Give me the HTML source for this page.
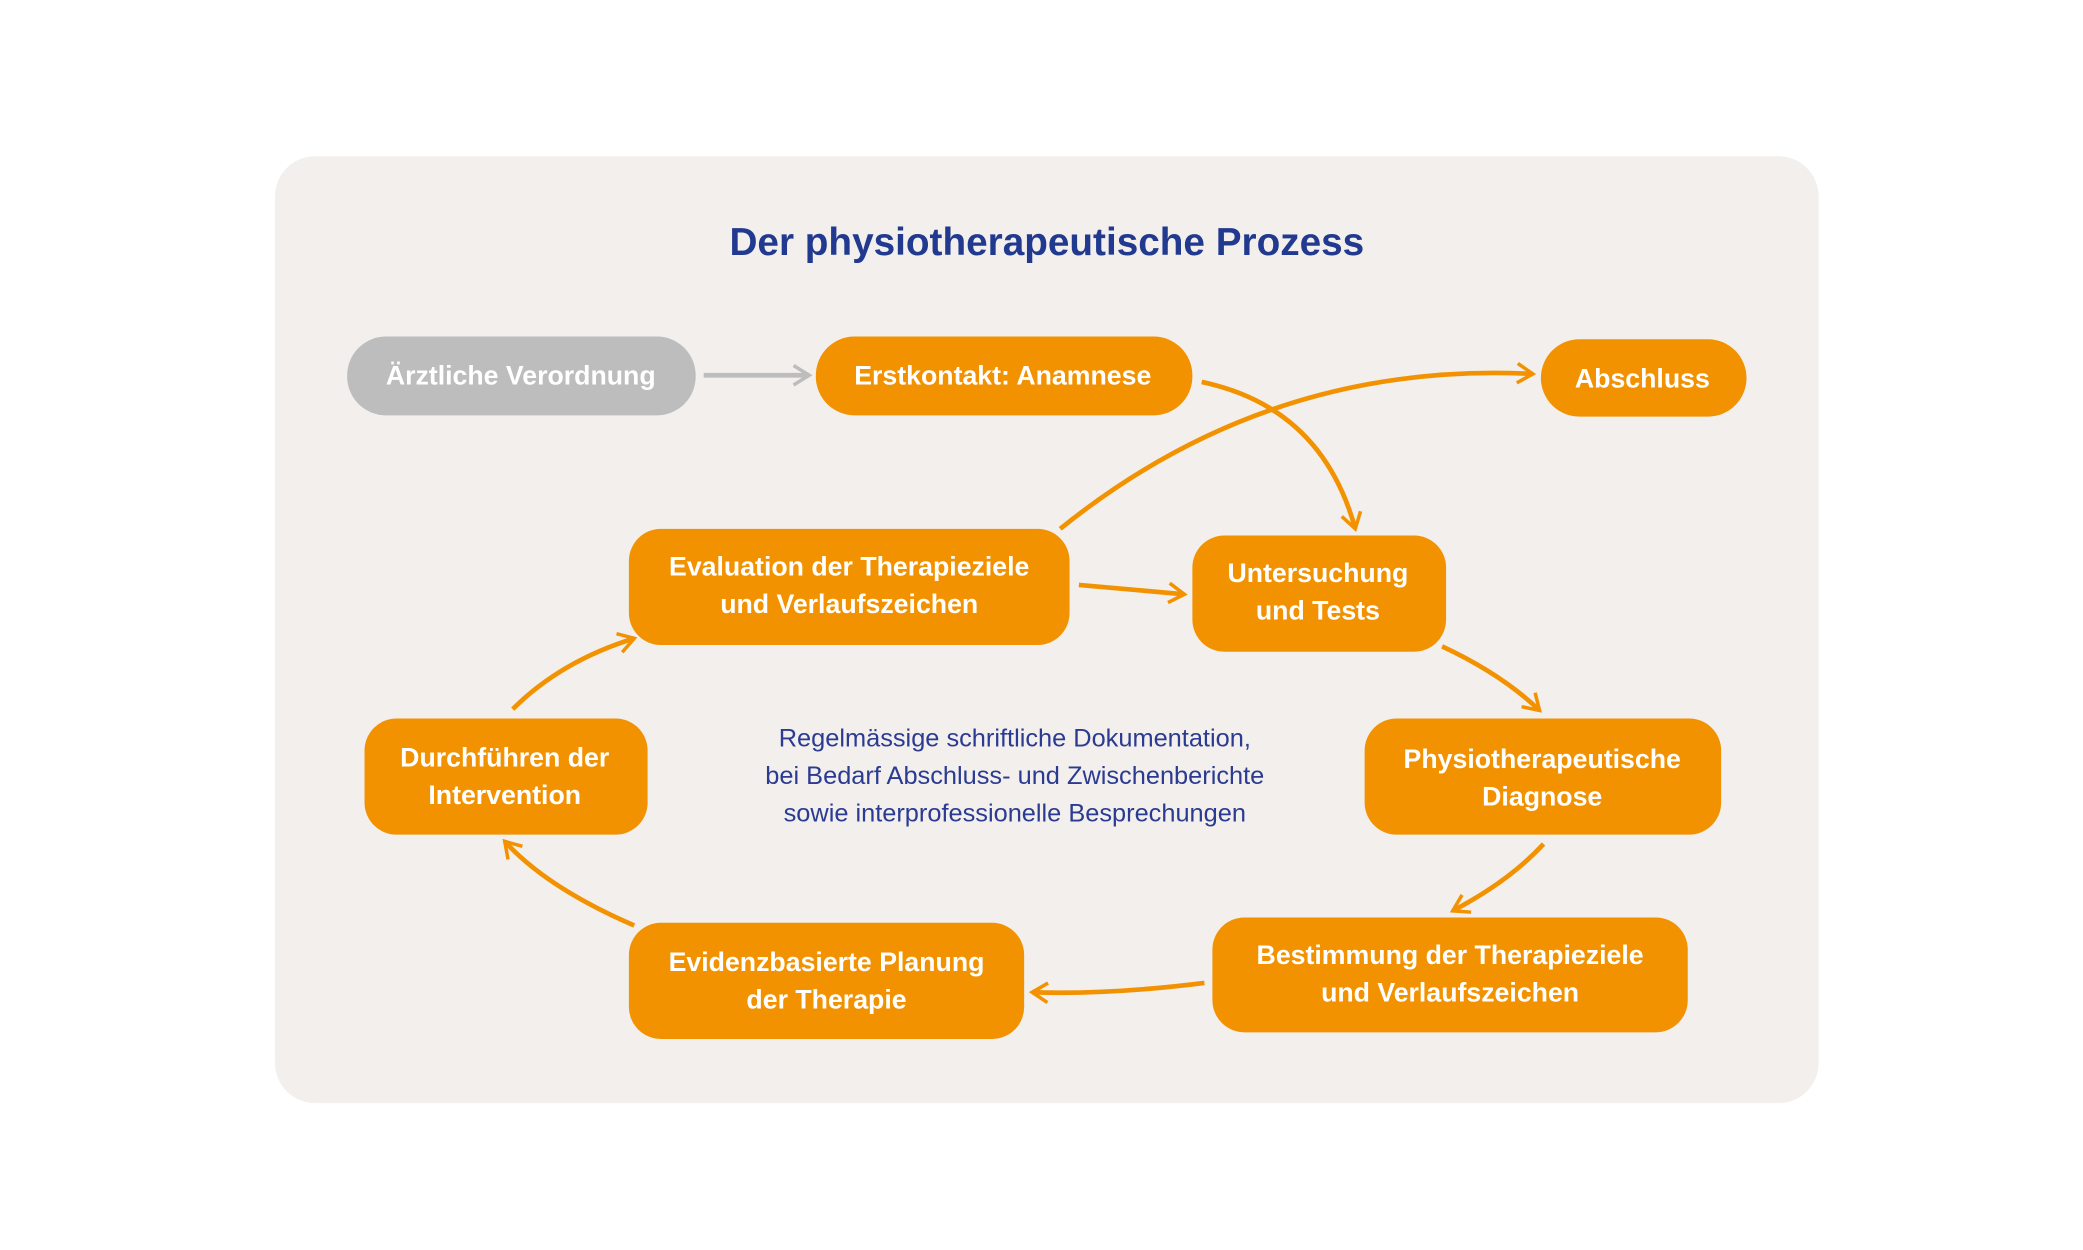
<!DOCTYPE html>
<html><head><meta charset="utf-8"><style>
html,body{margin:0;padding:0;background:#fff;}
svg{display:block;}
.b{font-family:"Liberation Sans",sans-serif;font-weight:bold;font-size:20px;fill:#fff;text-anchor:middle;}
.c{font-family:"Liberation Sans",sans-serif;font-size:19px;fill:#2b3b92;text-anchor:middle;}
</style></head><body>
<svg width="2083" height="1250" viewBox="0 0 1560 936" preserveAspectRatio="none" xmlns="http://www.w3.org/2000/svg">
<defs>
<marker id="m" viewBox="0 0 12 12" refX="10" refY="6" markerWidth="5" markerHeight="5" orient="auto" markerUnits="strokeWidth">
<path d="M2,1 L10,6 L2,11" fill="none" stroke="#f39200" stroke-width="1.8"/></marker>
<marker id="g" viewBox="0 0 12 12" refX="10" refY="6" markerWidth="5" markerHeight="5" orient="auto" markerUnits="strokeWidth">
<path d="M2,1 L10,6 L2,11" fill="none" stroke="#bdbdbd" stroke-width="1.8"/></marker>
</defs>
<rect x="206" y="117" width="1156" height="709" rx="30" fill="#f2efec"/>
<text x="784" y="191" font-family="Liberation Sans,sans-serif" font-weight="bold" font-size="29" fill="#213a8f" text-anchor="middle">Der physiotherapeutische Prozess</text>

<g fill="none" stroke="#f39200" stroke-width="3.5" marker-end="url(#m)">
<path d="M900,286 Q990,305 1015,396"/>
<path d="M794,396 Q950,270 1148,280"/>
<path d="M808,438 L887,445"/>
<path d="M1080,484 Q1125,505 1153,532"/>
<path d="M1156,632 Q1130,660 1088,682"/>
<path d="M902,736 Q830,745 773,743"/>
<path d="M475,693 Q410,665 378,630"/>
<path d="M384,531 Q420,495 475,478"/>
</g>
<path d="M527,281 L606,281" fill="none" stroke="#bdbdbd" stroke-width="3.5" marker-end="url(#g)"/>

<rect x="260" y="252" width="261" height="59" rx="29" fill="#bdbdbd"/>
<text class="b" x="390" y="288">Ärztliche Verordnung</text>
<rect x="611" y="252" width="282" height="59" rx="29" fill="#f39200"/>
<text class="b" x="751" y="288">Erstkontakt: Anamnese</text>
<rect x="1154" y="254" width="154" height="58" rx="29" fill="#f39200"/>
<text class="b" x="1230" y="290">Abschluss</text>

<rect x="471" y="396" width="330" height="87" rx="24" fill="#f39200"/>
<text class="b" x="636" y="431">Evaluation der Therapieziele</text>
<text class="b" x="636" y="459">und Verlaufszeichen</text>
<rect x="893" y="401" width="190" height="87" rx="24" fill="#f39200"/>
<text class="b" x="987" y="436">Untersuchung</text>
<text class="b" x="987" y="464">und Tests</text>
<rect x="273" y="538" width="212" height="87" rx="24" fill="#f39200"/>
<text class="b" x="378" y="574">Durchführen der</text>
<text class="b" x="378" y="602">Intervention</text>
<rect x="1022" y="538" width="267" height="87" rx="24" fill="#f39200"/>
<text class="b" x="1155" y="575">Physiotherapeutische</text>
<text class="b" x="1155" y="603">Diagnose</text>
<rect x="471" y="691" width="296" height="87" rx="24" fill="#f39200"/>
<text class="b" x="619" y="727">Evidenzbasierte Planung</text>
<text class="b" x="619" y="755">der Therapie</text>
<rect x="908" y="687" width="356" height="86" rx="24" fill="#f39200"/>
<text class="b" x="1086" y="722">Bestimmung der Therapieziele</text>
<text class="b" x="1086" y="750">und Verlaufszeichen</text>

<text class="c" x="760" y="559">Regelmässige schriftliche Dokumentation,</text>
<text class="c" x="760" y="587">bei Bedarf Abschluss- und Zwischenberichte</text>
<text class="c" x="760" y="615">sowie interprofessionelle Besprechungen</text>
</svg>
</body></html>
